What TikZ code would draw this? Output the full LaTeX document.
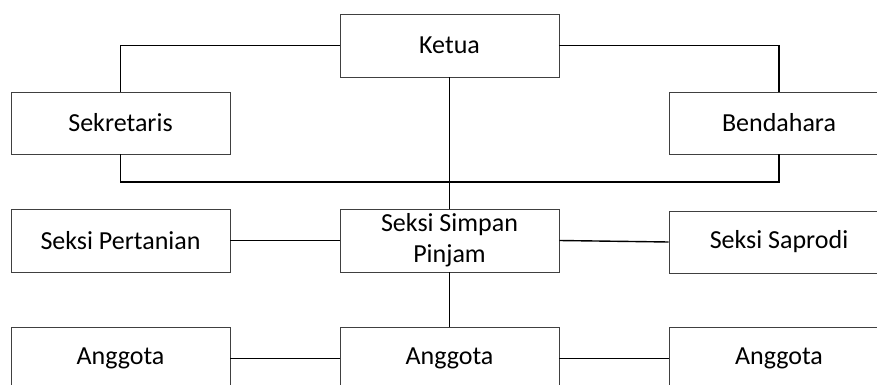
\documentclass[tikz,border=0pt]{standalone}
\usepackage{fontspec}
\setmainfont{Carlito}
\begin{document}
\begin{tikzpicture}[x=1pt,y=-1pt,
  box/.style={draw=black!75, line width=0.8pt, minimum width=219pt, minimum height=63pt,
    inner sep=0pt, align=center, font=\fontsize{26}{31}\selectfont},
  wide/.style={minimum width=220pt},
  conn/.style={draw=black, line width=1.4pt}]
\useasboundingbox (0,0) rectangle (877,385);
\clip (0,0) rectangle (877,385);
\node[box] (ketua) at (449.5,45.5) {Ketua};
\node[box, minimum height=62pt] (sek) at (120.5,123) {Sekretaris};
\node[box, wide, minimum height=62pt] (ben) at (779,123) {Bendahara};
\node[box] (per) at (120.5,240.5) {Seksi Pertanian};
\node[box] (sp) at (449.5,240.5) {Seksi Simpan\\Pinjam};
\node[box, wide, minimum height=62pt] (sap) at (779,242) {Seksi Saprodi};
\node[box] (a1) at (120.5,358.5) {Anggota};
\node[box] (a2) at (449.5,358.5) {Anggota};
\node[box, wide] (a3) at (779,358.5) {Anggota};
\coordinate (c1) at (120.5,45.5);
\coordinate (c2) at (779,45.5);
\coordinate (c3) at (120.5,182);
\coordinate (c4) at (779,182);
\draw[conn] (ketua.west) -- (c1) -- (sek.north);
\draw[conn] (ketua.east) -- (c2) -- (ben.north);
\draw[conn] (sek.south) -- (c3) -- (c4) -- (ben.south);
\draw[conn] (ketua.south) -- (sp.north);
\draw[conn] (per.east) -- (sp.west);
\draw[conn] (sp.east) -- (sap.west);
\draw[conn] (sp.south) -- (a2.north);
\draw[conn] (a1.east) -- (a2.west);
\draw[conn] (a2.east) -- (a3.west);
\end{tikzpicture}
\end{document}
